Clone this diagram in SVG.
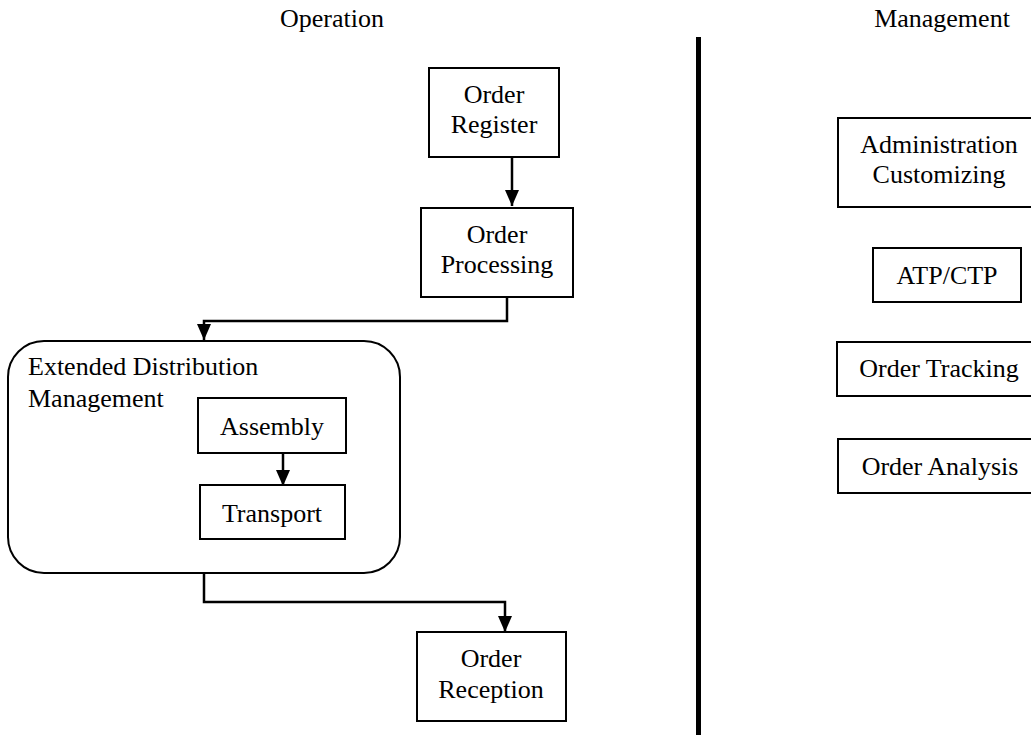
<svg xmlns="http://www.w3.org/2000/svg" width="1031" height="735" viewBox="0 0 1031 735">
  <defs>
    <!-- filled arrowhead, drawn along +x so orient="auto" turns it with the line -->
    <marker id="arrow" markerWidth="16" markerHeight="14" refX="16" refY="7" orient="auto" markerUnits="userSpaceOnUse" viewBox="0 0 16 14">
      <path d="M0,0 L16,7 L0,14 Z" fill="#000"/>
    </marker>
    <style>
      .box { fill: #fff; stroke: #000; stroke-width: 2; }
      .lbl { font-family: "Liberation Serif", "Times New Roman", serif; font-size: 26px; fill: #000; }
      .mid { text-anchor: middle; }
      .conn { fill: none; stroke: #000; stroke-width: 2.5; }
    </style>
  </defs>
  <rect width="1031" height="735" fill="#fff"/>

  <!-- column headings -->
  <text class="lbl mid" x="332" y="27">Operation</text>
  <text class="lbl mid" x="942" y="27">Management</text>

  <!-- divider between the two columns -->
  <line x1="698.5" y1="37" x2="698.5" y2="735" stroke="#000" stroke-width="5"/>

  <!-- operation flow -->
  <g id="order-register">
    <rect class="box" x="429" y="68" width="130" height="89"/>
    <text class="lbl mid" x="494" y="103">Order</text>
    <text class="lbl mid" x="494" y="133">Register</text>
  </g>
  <g id="order-processing">
    <rect class="box" x="421" y="208" width="152" height="89"/>
    <text class="lbl mid" x="497" y="243">Order</text>
    <text class="lbl mid" x="497" y="273">Processing</text>
  </g>
  <g id="extended-distribution">
    <rect class="box" x="8" y="341" width="392" height="232" rx="36" ry="36"/>
    <text class="lbl" x="28" y="375">Extended Distribution</text>
    <text class="lbl" x="28" y="407">Management</text>
  </g>
  <g id="assembly">
    <rect class="box" x="198" y="398" width="148" height="55"/>
    <text class="lbl mid" x="272" y="435">Assembly</text>
  </g>
  <g id="transport">
    <rect class="box" x="200" y="485" width="145" height="54"/>
    <text class="lbl mid" x="272" y="522">Transport</text>
  </g>
  <g id="order-reception">
    <rect class="box" x="417" y="632" width="149" height="89"/>
    <text class="lbl mid" x="491" y="667">Order</text>
    <text class="lbl mid" x="491" y="698">Reception</text>
  </g>

  <!-- management functions -->
  <g id="administration-customizing">
    <rect class="box" x="838" y="118" width="203" height="89"/>
    <text class="lbl mid" x="939" y="153">Administration</text>
    <text class="lbl mid" x="939" y="183">Customizing</text>
  </g>
  <g id="atp-ctp">
    <rect class="box" x="873" y="248" width="148" height="54"/>
    <text class="lbl mid" x="947" y="284">ATP/CTP</text>
  </g>
  <g id="order-tracking">
    <rect class="box" x="837" y="342" width="204" height="54"/>
    <text class="lbl mid" x="939" y="377">Order Tracking</text>
  </g>
  <g id="order-analysis">
    <rect class="box" x="838" y="439" width="203" height="54"/>
    <text class="lbl mid" x="940" y="475">Order Analysis</text>
  </g>

  <!-- connectors -->
  <g id="connectors">
    <path class="conn" d="M512,157 L512,206" marker-end="url(#arrow)"/>
    <path class="conn" d="M507,297 L507,321 L204,321 L204,340" marker-end="url(#arrow)"/>
    <path class="conn" d="M283,453 L283,486" marker-end="url(#arrow)"/>
    <path class="conn" d="M204,573 L204,602 L505,602 L505,632" marker-end="url(#arrow)"/>
  </g>
</svg>
